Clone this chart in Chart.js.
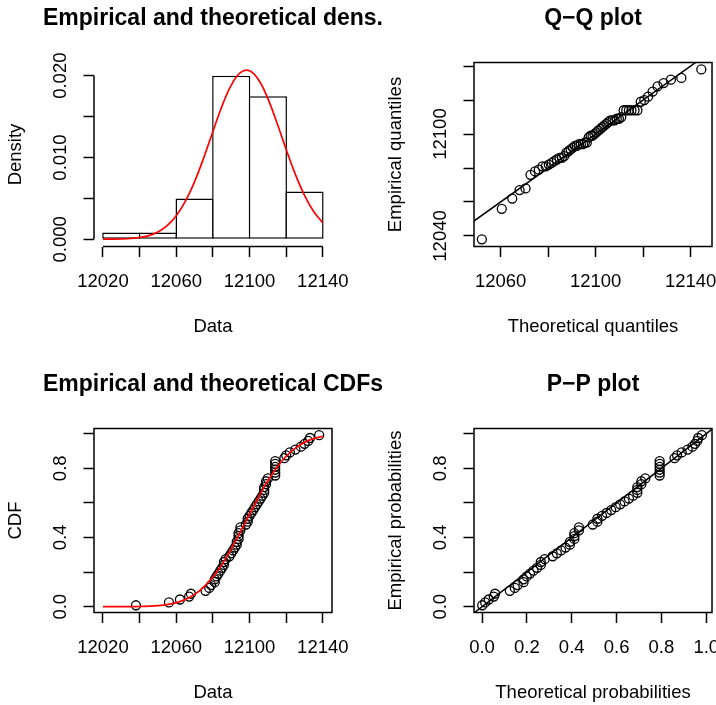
<!DOCTYPE html>
<html>
<head>
<meta charset="utf-8">
<script src="https://cdn.jsdelivr.net/npm/chart.js@4.4.1/dist/chart.umd.min.js"></script>
<style>
  html, body { margin: 0; padding: 0; background: #fff; }
  body { width: 716px; height: 705px; overflow: hidden; position: relative; }
  canvas { position: absolute; }
</style>
</head>
<body>
<canvas id="dens" width="420" height="366" style="left:0;top:0;width:420px;height:366px"></canvas>
<canvas id="qq" width="420" height="366" style="left:380px;top:0;width:420px;height:366px"></canvas>
<canvas id="cdf" width="420" height="366" style="left:0;top:366px;width:420px;height:366px"></canvas>
<canvas id="pp" width="420" height="366" style="left:380px;top:366px;width:420px;height:366px"></canvas>
<script>
const sampleData = [12038, 12056, 12062, 12067, 12068, 12076, 12078, 12079,
  12081, 12081, 12082, 12083, 12084, 12085, 12086, 12086, 12087,
  12089, 12090, 12091, 12092, 12093, 12093, 12094, 12094, 12094, 12095, 12095,
  12098, 12099, 12099, 12100,
  12101, 12102, 12103, 12104, 12105, 12106, 12107, 12108, 12108, 12108, 12109, 12109, 12110,
  12114, 12114, 12114, 12114, 12114, 12114,
  12119, 12120, 12122, 12125, 12128, 12130, 12132, 12133, 12138];

// empirical probabilities (plotting positions)
const empProb = [0.0083, 0.0250, 0.0417, 0.0583, 0.0750, 0.0917, 0.1083, 0.1250, 0.1417, 0.1583,
  0.1750, 0.1917, 0.2083, 0.2250, 0.2417, 0.2583, 0.2750, 0.2917, 0.3083, 0.3250,
  0.3417, 0.3583, 0.3750, 0.3917, 0.4083, 0.4250, 0.4417, 0.4583, 0.4750, 0.4917,
  0.5083, 0.5250, 0.5417, 0.5583, 0.5750, 0.5917, 0.6083, 0.6250, 0.6417, 0.6583,
  0.6750, 0.6917, 0.7083, 0.7250, 0.7417, 0.7583, 0.7750, 0.7917, 0.8083, 0.8250,
  0.8417, 0.8583, 0.8750, 0.8917, 0.9083, 0.9250, 0.9417, 0.9583, 0.9750, 0.9917];

// theoretical quantiles (x of the Q-Q plot)
const theoQuant = [12052.1, 12060.5, 12064.9, 12068.0, 12070.5, 12072.6, 12074.5, 12076.1, 12077.6, 12079.0,
  12080.3, 12081.5, 12082.6, 12083.7, 12084.8, 12085.8, 12086.8, 12087.7, 12088.6, 12089.5,
  12090.4, 12091.3, 12092.1, 12093.0, 12093.8, 12094.7, 12095.5, 12096.3, 12097.1, 12097.9,
  12098.7, 12099.5, 12100.3, 12101.1, 12102.0, 12102.8, 12103.6, 12104.5, 12105.3, 12106.2,
  12107.1, 12108.0, 12108.9, 12109.8, 12110.8, 12111.8, 12112.9, 12114.0, 12115.1, 12116.4,
  12117.6, 12119.0, 12120.5, 12122.1, 12124.0, 12126.1, 12128.6, 12131.7, 12136.1, 12144.5];

// theoretical probabilities (x of the P-P plot)
const theoProb = [0.0009, 0.0142, 0.0300, 0.0524, 0.0582, 0.1240, 0.1464, 0.1587,
  0.1851, 0.1851, 0.1991, 0.2139, 0.2293, 0.2454, 0.2621, 0.2621, 0.2793,
  0.3149, 0.3336, 0.3527, 0.3722, 0.3917, 0.3917, 0.4118, 0.4118, 0.4118, 0.4321, 0.4321,
  0.4938, 0.5145, 0.5145, 0.5351,
  0.5556, 0.5760, 0.5962, 0.6161, 0.6357, 0.6550, 0.6739, 0.6924, 0.6924, 0.6924, 0.7104, 0.7104, 0.7278,
  0.7920, 0.7920, 0.7920, 0.7920, 0.7920, 0.7920,
  0.8583, 0.8696, 0.8903, 0.9167, 0.9381, 0.9497, 0.9596, 0.9639, 0.9802];

// histogram
const histMids = [12030, 12050, 12070, 12090, 12110, 12130];
const histDensity = [0.000833, 0.000833, 0.005, 0.02, 0.0175, 0.005833];

// fitted curves
const curveX = [12020, 12025, 12030, 12035, 12040, 12045, 12050, 12055, 12060, 12065, 12070, 12075,
  12080, 12085, 12090, 12095, 12100, 12105, 12110, 12115, 12120, 12125, 12130, 12135, 12140];
const densCurve = [0.0000055, 0.0000152, 0.0000394, 0.0000954, 0.000216, 0.000456, 0.000902, 0.001668,
  0.002885, 0.004667, 0.007055, 0.009972, 0.013186, 0.016299, 0.018846, 0.020371, 0.020591,
  0.019462, 0.017201, 0.014216, 0.010985, 0.007941, 0.005364, 0.003390, 0.002003];
const cdfCurve = [0.0000, 0.0001, 0.0002, 0.0005, 0.0013, 0.0029, 0.0062, 0.0124, 0.0236, 0.0423,
  0.0713, 0.1137, 0.1716, 0.2454, 0.3336, 0.4321, 0.5351, 0.6357, 0.7277, 0.8065,
  0.8695, 0.9167, 0.9498, 0.9714, 0.9847];

// reference lines y = x
const qqLine = [12000, 12200];
const ppLine = [-0.1, 1.1];

// ticks and labels
const dataTicks = [12020, 12040, 12060, 12080, 12100, 12120, 12140];
const dataLabels = ['12020', '', '12060', '', '12100', '', '12140'];
const densTicks = [0, 0.005, 0.01, 0.015, 0.02];
const densLabels = ['0.000', '', '0.010', '', '0.020'];
const qqXTicks = [12060, 12080, 12100, 12120, 12140];
const qqXLabels = ['12060', '', '12100', '', '12140'];
const qqYTicks = [12040, 12060, 12080, 12100, 12120, 12140];
const qqYLabels = ['12040', '', '', '12100', '', ''];
const probTicks = [0, 0.2, 0.4, 0.6, 0.8, 1.0];
const probYLabels = ['0.0', '', '0.4', '', '0.8', ''];
const probXLabels = ['0.0', '0.2', '0.4', '0.6', '0.8', '1.0'];

const FONT = "'Liberation Sans', Arial, Helvetica, sans-serif";
const LW = 1.5;
const FS = 18.5;

Chart.defaults.font.family = FONT;
Chart.defaults.color = '#000';

const pts = (xs, ys) => xs.map((x, i) => ({ x: x, y: ys[i] }));

// box / axis lines and the panel title
const frame = {
  id: 'frame',
  afterDraw(chart, args, o) {
    const { ctx, chartArea: a, scales } = chart;
    ctx.save();
    ctx.strokeStyle = '#000';
    ctx.lineWidth = LW;
    if (o.box) {
      ctx.strokeRect(a.left, a.top, a.right - a.left, a.bottom - a.top);
    } else {
      const xt = scales.x.ticks, yt = scales.y.ticks;
      ctx.beginPath();
      ctx.moveTo(scales.x.getPixelForValue(xt[0].value), a.bottom);
      ctx.lineTo(scales.x.getPixelForValue(xt[xt.length - 1].value), a.bottom);
      ctx.moveTo(a.left, scales.y.getPixelForValue(yt[0].value));
      ctx.lineTo(a.left, scales.y.getPixelForValue(yt[yt.length - 1].value));
      ctx.stroke();
    }
    ctx.font = 'bold 23px ' + FONT;
    ctx.fillStyle = '#000';
    ctx.textAlign = 'center';
    ctx.textBaseline = 'alphabetic';
    ctx.fillText(o.title, (a.left + a.right) / 2, 25.3);
    ctx.restore();
  }
};

function xAxis(min, max, ticks, labels, title) {
  return {
    type: 'linear', position: 'bottom', min: min, max: max, offset: false,
    border: { display: false },
    grid: { display: true, drawOnChartArea: false, drawTicks: true, tickLength: 10.5,
            tickWidth: LW, tickColor: '#000', offset: false },
    ticks: { autoSkip: false, maxRotation: 0, minRotation: 0, padding: 14,
             font: { size: FS }, color: '#000', callback: (v, i) => labels[i] },
    title: { display: true, text: title, font: { size: FS }, color: '#000',
             padding: { top: 0, bottom: 28.4 } },
    afterBuildTicks: s => { s.ticks = ticks.map(v => ({ value: v })); },
    afterFit: s => { s.height = 119.5; s.paddingLeft = 0; s.paddingRight = 0; }
  };
}

function yAxis(min, max, ticks, labels, title, pad) {
  return {
    type: 'linear', position: 'left', min: min, max: max,
    border: { display: false },
    grid: { display: true, drawOnChartArea: false, drawTicks: true, tickLength: 10.5,
            tickWidth: LW, tickColor: '#000' },
    ticks: { autoSkip: false, minRotation: 90, maxRotation: 90, crossAlign: 'center', padding: pad,
             font: { size: FS }, color: '#000', callback: (v, i) => labels[i] },
    title: { display: true, text: title, font: { size: FS }, color: '#000',
             padding: { top: 4.5, bottom: 0 } },
    afterBuildTicks: s => { s.ticks = ticks.map(v => ({ value: v })); },
    afterFit: s => { s.width = 94; s.paddingTop = 0; s.paddingBottom = 0; }
  };
}

function baseOptions(title, box, xs, ys) {
  return {
    responsive: false, animation: false, events: [],
    layout: { padding: { top: 62.5, left: 0, right: 88, bottom: 0 } },
    plugins: { legend: { display: false }, tooltip: { enabled: false }, frame: { title: title, box: box } },
    scales: { x: xs, y: ys }
  };
}

const circles = {
  showLine: false, pointStyle: 'circle', pointRadius: 4.5, pointBorderWidth: 1.3,
  pointBorderColor: '#000', pointBackgroundColor: 'rgba(0,0,0,0)', order: 1
};

// 1. histogram + density
new Chart(document.getElementById('dens'), {
  type: 'bar',
  data: {
    datasets: [
      { type: 'bar', data: pts(histMids, histDensity), backgroundColor: '#fff', borderColor: '#000',
        borderWidth: LW, borderSkipped: false, barPercentage: 1.041, categoryPercentage: 1, order: 1 },
      { type: 'line', data: pts(curveX, densCurve), borderColor: '#ff0000', borderWidth: 1.7,
        pointRadius: 0, tension: 0.4, fill: false, order: 0 }
    ]
  },
  options: baseOptions('Empirical and theoretical dens.', false,
    xAxis(12015.1, 12145, dataTicks, dataLabels, 'Data'),
    yAxis(-0.00088, 0.02161, densTicks, densLabels, 'Density', -0.6)),
  plugins: [frame]
});

// 2. Q-Q plot
new Chart(document.getElementById('qq'), {
  type: 'scatter',
  data: {
    datasets: [
      Object.assign({ data: pts(theoQuant, sampleData) }, circles),
      { data: pts(qqLine, qqLine), showLine: true, borderColor: '#000', borderWidth: LW, pointRadius: 0, order: 0 }
    ]
  },
  options: baseOptions('Q\u2212Q plot', true,
    xAxis(12048.8, 12149, qqXTicks, qqXLabels, 'Theoretical quantiles'),
    yAxis(12033.8, 12142.1, qqYTicks, qqYLabels, 'Empirical quantiles', -3.2)),
  plugins: [frame]
});

// 3. CDFs
new Chart(document.getElementById('cdf'), {
  type: 'scatter',
  data: {
    datasets: [
      Object.assign({ data: pts(sampleData, empProb) }, circles),
      { data: pts(curveX, cdfCurve), showLine: true, borderColor: '#ff0000', borderWidth: 1.7,
        pointRadius: 0, tension: 0.4, order: 0 }
    ]
  },
  options: baseOptions('Empirical and theoretical CDFs', true,
    xAxis(12015.1, 12145, dataTicks, dataLabels, 'Data'),
    yAxis(-0.0335, 1.030, probTicks, probYLabels, 'CDF', 9.6)),
  plugins: [frame]
});

// 4. P-P plot
new Chart(document.getElementById('pp'), {
  type: 'scatter',
  data: {
    datasets: [
      Object.assign({ data: pts(theoProb, empProb) }, circles),
      { data: pts(ppLine, ppLine), showLine: true, borderColor: '#000', borderWidth: LW, pointRadius: 0, order: 0 }
    ]
  },
  options: baseOptions('P\u2212P plot', true,
    xAxis(-0.0357, 1.0254, probTicks, probXLabels, 'Theoretical probabilities'),
    yAxis(-0.0335, 1.030, probTicks, probYLabels, 'Empirical probabilities', 9.6)),
  plugins: [frame]
});
</script>
</body>
</html>
